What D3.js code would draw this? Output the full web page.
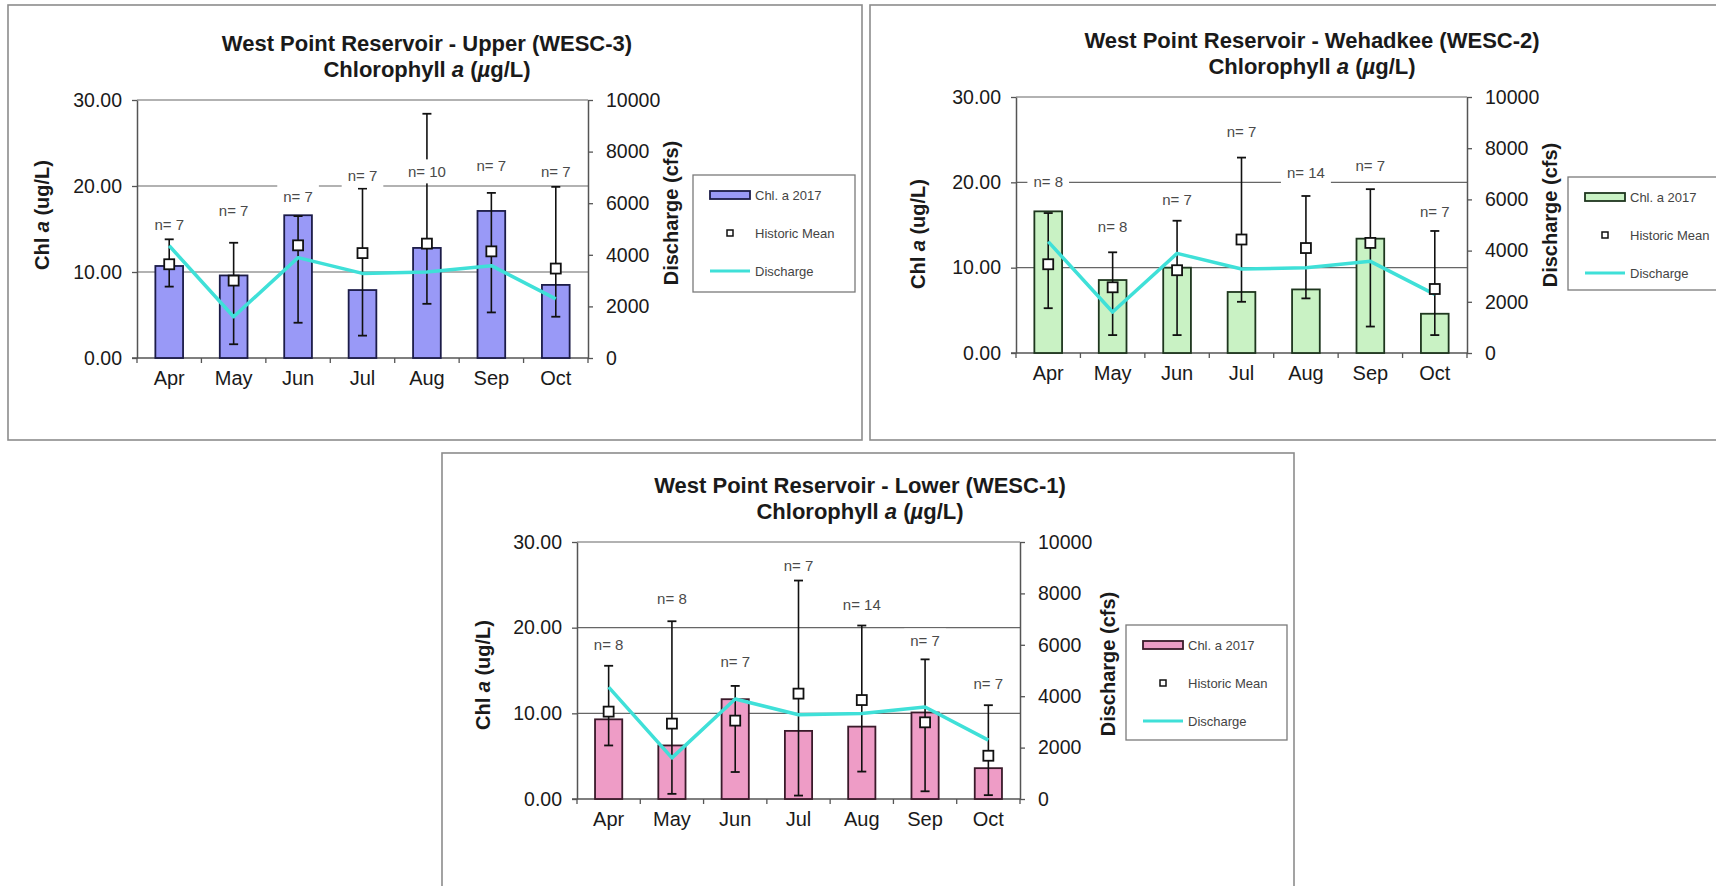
<!DOCTYPE html>
<html>
<head>
<meta charset="utf-8">
<script src="https://cdnjs.cloudflare.com/ajax/libs/d3/7.8.5/d3.min.js"></script>
<style>
  body { margin: 0; background: #fff; }
  svg text { font-family: "Liberation Sans", Arial, sans-serif; }
</style>
</head>
<body>
<svg id="chart" width="1716" height="886"></svg>
<script>
// months on the x axis (same for every chart)
var months = ["Apr", "May", "Jun", "Jul", "Aug", "Sep", "Oct"];

// tick values
var chlTicks = [0, 10, 20, 30];
var flowTicks = [0, 2000, 4000, 6000, 8000, 10000];

// discharge (cfs) - same line in all three charts
var discharge = [4350, 1600, 3890, 3280, 3330, 3580, 2290];

// Upper (WESC-3)
var upperChl2017 = [10.7, 9.6, 16.6, 7.9, 12.8, 17.1, 8.5];
var upperMean = [10.9, 9.0, 13.1, 12.2, 13.3, 12.4, 10.4];
var upperMin = [8.3, 1.6, 4.1, 2.6, 6.3, 5.3, 4.8];
var upperMax = [13.8, 13.4, 16.5, 19.7, 28.4, 19.2, 19.9];
var upperN = [7, 7, 7, 7, 10, 7, 7];
var upperNLabelAt = [15.5, 17.1, 18.8, 21.2, 21.7, 22.3, 21.6];

// Wehadkee (WESC-2)
var wehadkeeChl2017 = [16.6, 8.55, 10.0, 7.15, 7.45, 13.4, 4.6];
var wehadkeeMean = [10.4, 7.7, 9.7, 13.3, 12.3, 12.9, 7.5];
var wehadkeeMin = [5.25, 2.1, 2.1, 6.0, 6.4, 3.1, 2.1];
var wehadkeeMax = [16.4, 11.8, 15.5, 22.9, 18.4, 19.2, 14.3];
var wehadkeeN = [8, 8, 7, 7, 14, 7, 7];
var wehadkeeNLabelAt = [20.1, 14.8, 18.0, 25.9, 21.1, 22.0, 16.5];

// Lower (WESC-1)
var lowerChl2017 = [9.3, 6.25, 11.65, 7.95, 8.45, 10.1, 3.6];
var lowerMean = [10.2, 8.8, 9.15, 12.3, 11.55, 8.95, 5.05];
var lowerMin = [6.25, 0.6, 3.15, 0.4, 3.2, 0.9, 0.45];
var lowerMax = [15.55, 20.75, 13.2, 25.5, 20.25, 16.3, 10.95];
var lowerN = [8, 8, 7, 7, 14, 7, 7];
var lowerNLabelAt = [18.0, 23.4, 16.0, 27.2, 22.7, 18.5, 13.4];

var svg = d3.select("#chart");

function drawPanel(p) {
  var g = svg.append("g");

  // outer frame of the chart
  g.append("rect")
    .attr("x", p.box[0]).attr("y", p.box[1])
    .attr("width", p.box[2]).attr("height", p.box[3])
    .attr("fill", "#fff").attr("stroke", "#8c8c8c").attr("stroke-width", 1.6);

  var x = d3.scaleBand().domain(months).range([p.left, p.right])
    .paddingInner(0.57).paddingOuter(0.285);
  var y = d3.scaleLinear().domain([0, 30]).range([p.bottom, p.top]);
  var y2 = d3.scaleLinear().domain([0, 10000]).range([p.bottom, p.top]);
  var cx = function(m) { return x(m) + x.bandwidth() / 2; };

  // gridlines (10, 20, 30)
  g.selectAll(".grid").data(chlTicks.slice(1)).enter().append("line")
    .attr("x1", p.left).attr("x2", p.right)
    .attr("y1", function(d) { return y(d); }).attr("y2", function(d) { return y(d); })
    .attr("stroke", "#666").attr("stroke-width", 1.1);

  // left axis
  var la = g.append("g").attr("transform", "translate(" + p.left + ",0)")
    .call(d3.axisLeft(y).tickValues(chlTicks).tickFormat(d3.format(".2f"))
      .tickSize(5).tickSizeOuter(0).tickPadding(10));
  // right axis
  var ra = g.append("g").attr("transform", "translate(" + p.right + ",0)")
    .call(d3.axisRight(y2).tickValues(flowTicks).tickFormat(d3.format("d"))
      .tickSize(5).tickSizeOuter(0).tickPadding(13));
  [la, ra].forEach(function(a) {
    a.select(".domain").attr("stroke", "#555").attr("stroke-width", 1.5);
    a.selectAll(".tick line").attr("stroke", "#555").attr("stroke-width", 1.3);
    a.selectAll("text").attr("font-size", 19.5).attr("fill", "#1a1a1a");
  });

  // bottom axis: labels under each month, ticks between months
  var ba = g.append("g").attr("transform", "translate(0," + p.bottom + ")")
    .call(d3.axisBottom(x).tickSize(0).tickPadding(13));
  ba.select(".domain").remove();
  ba.selectAll("text").attr("font-size", 20).attr("fill", "#1a1a1a");
  g.append("line").attr("x1", p.left - 5).attr("x2", p.right)
    .attr("y1", p.bottom).attr("y2", p.bottom)
    .attr("stroke", "#555").attr("stroke-width", 1.5);
  g.selectAll(".xtick").data(months.concat(["end"])).enter().append("line")
    .attr("x1", function(d, i) { return p.left + i * x.step(); })
    .attr("x2", function(d, i) { return p.left + i * x.step(); })
    .attr("y1", p.bottom).attr("y2", p.bottom + 5)
    .attr("stroke", "#555").attr("stroke-width", 1.3);

  // 2017 bars
  g.selectAll(".bar").data(p.chl).enter().append("rect")
    .attr("x", function(d, i) { return x(months[i]); })
    .attr("y", function(d) { return y(d); })
    .attr("width", x.bandwidth())
    .attr("height", function(d) { return y(0) - y(d); })
    .attr("fill", p.fill).attr("stroke", p.edge).attr("stroke-width", 1.8);

  // historic range error bars
  var eb = g.selectAll(".err").data(months).enter().append("g");
  eb.append("line")
    .attr("x1", cx).attr("x2", cx)
    .attr("y1", function(d, i) { return y(p.min[i]); })
    .attr("y2", function(d, i) { return y(p.max[i]); })
    .attr("stroke", "#111").attr("stroke-width", 1.6);
  [p.min, p.max].forEach(function(arr) {
    eb.append("line")
      .attr("x1", function(d) { return cx(d) - 4.5; })
      .attr("x2", function(d) { return cx(d) + 4.5; })
      .attr("y1", function(d, i) { return y(arr[i]); })
      .attr("y2", function(d, i) { return y(arr[i]); })
      .attr("stroke", "#111").attr("stroke-width", 1.8);
  });

  // discharge line
  var line = d3.line()
    .x(function(d, i) { return cx(months[i]); })
    .y(function(d) { return y2(d); });
  g.append("path").datum(discharge).attr("d", line)
    .attr("fill", "none").attr("stroke", "#3fe0d8").attr("stroke-width", 3.5)
    .attr("stroke-linejoin", "round");

  // historic mean markers
  g.selectAll(".mean").data(p.mean).enter().append("rect")
    .attr("x", function(d, i) { return cx(months[i]) - 5; })
    .attr("y", function(d) { return y(d) - 5; })
    .attr("width", 10).attr("height", 10)
    .attr("fill", "#fff").attr("stroke", "#111").attr("stroke-width", 1.8);

  // n= labels (white boxes hide lines behind them)
  p.n.forEach(function(n, i) {
    var lg = g.append("g");
    var bg = lg.append("rect").attr("fill", "#fff");
    var t = lg.append("text")
      .attr("x", cx(months[i])).attr("y", y(p.nAt[i]))
      .attr("dy", "0.35em").attr("text-anchor", "middle")
      .attr("font-size", 15).attr("fill", "#4a4a4a")
      .text("n= " + n);
    var bb = t.node().getBBox();
    bg.attr("x", bb.x - 6).attr("y", y(p.nAt[i]) - 12)
      .attr("width", bb.width + 12).attr("height", 24);
  });

  // titles
  g.append("text").attr("x", p.titleX).attr("y", p.titleY)
    .attr("text-anchor", "middle").attr("font-size", 22).attr("font-weight", "bold")
    .attr("fill", "#1a1a1a").text(p.title);
  var t2 = g.append("text").attr("x", p.titleX).attr("y", p.titleY + 26)
    .attr("text-anchor", "middle").attr("font-size", 22).attr("font-weight", "bold")
    .attr("fill", "#1a1a1a");
  t2.append("tspan").text("Chlorophyll ");
  t2.append("tspan").attr("font-style", "italic").text("a");
  t2.append("tspan").text(" (");
  t2.append("tspan").attr("font-style", "italic").text("\u00b5");
  t2.append("tspan").text("g/L)");

  // axis titles
  var yl = g.append("text")
    .attr("transform", "translate(" + p.yTitle[0] + "," + p.yTitle[1] + ") rotate(-90)")
    .attr("text-anchor", "middle").attr("dy", "0.35em")
    .attr("font-size", 20).attr("font-weight", "bold").attr("fill", "#1a1a1a");
  yl.append("tspan").text("Chl ");
  yl.append("tspan").attr("font-style", "italic").text("a");
  yl.append("tspan").text(" (ug/L)");
  g.append("text")
    .attr("transform", "translate(" + p.y2Title[0] + "," + p.y2Title[1] + ") rotate(-90)")
    .attr("text-anchor", "middle").attr("dy", "0.35em")
    .attr("font-size", 20).attr("font-weight", "bold").attr("fill", "#1a1a1a")
    .text("Discharge (cfs)");

  // legend
  var L = p.legend;
  var leg = g.append("g").attr("transform", "translate(" + L[0] + "," + L[1] + ")");
  leg.append("rect").attr("width", L[2]).attr("height", L[3])
    .attr("fill", "#fff").attr("stroke", "#7a7a7a").attr("stroke-width", 1.3);
  leg.append("rect").attr("x", 17).attr("y", 16).attr("width", 40).attr("height", 8)
    .attr("fill", p.fill).attr("stroke", p.edge).attr("stroke-width", 1.8);
  leg.append("rect").attr("x", 34).attr("y", 55).attr("width", 6).attr("height", 6)
    .attr("fill", "#fff").attr("stroke", "#111").attr("stroke-width", 1.5);
  leg.append("line").attr("x1", 17).attr("x2", 57).attr("y1", 96).attr("y2", 96)
    .attr("stroke", "#3fe0d8").attr("stroke-width", 3);
  var names = ["Chl. a 2017", "Historic Mean", "Discharge"];
  leg.selectAll(".lt").data(names).enter().append("text")
    .attr("x", 62).attr("y", function(d, i) { return 20 + i * 38; })
    .attr("dy", "0.35em").attr("font-size", 13).attr("fill", "#444")
    .text(function(d) { return d; });
}

drawPanel({
  title: "West Point Reservoir - Upper (WESC-3)",
  chl: upperChl2017, mean: upperMean, min: upperMin, max: upperMax,
  n: upperN, nAt: upperNLabelAt,
  fill: "#9999f7", edge: "#1c1c48",
  box: [8, 5, 854, 435],
  left: 137, right: 588, top: 100, bottom: 358,
  titleX: 427, titleY: 51,
  yTitle: [42, 215], y2Title: [671, 213],
  legend: [693, 175, 162, 117]
});

drawPanel({
  title: "West Point Reservoir - Wehadkee (WESC-2)",
  chl: wehadkeeChl2017, mean: wehadkeeMean, min: wehadkeeMin, max: wehadkeeMax,
  n: wehadkeeN, nAt: wehadkeeNLabelAt,
  fill: "#c9f2c4", edge: "#1e361e",
  box: [870, 5, 870, 435],
  left: 1016, right: 1467, top: 97, bottom: 353,
  titleX: 1312, titleY: 48,
  yTitle: [918, 234], y2Title: [1550, 215],
  legend: [1568, 177, 162, 113]
});

drawPanel({
  title: "West Point Reservoir - Lower (WESC-1)",
  chl: lowerChl2017, mean: lowerMean, min: lowerMin, max: lowerMax,
  n: lowerN, nAt: lowerNLabelAt,
  fill: "#ee9cc6", edge: "#3a1a2a",
  box: [442, 453, 852, 450],
  left: 577, right: 1020, top: 542, bottom: 799,
  titleX: 860, titleY: 493,
  yTitle: [483, 675], y2Title: [1108, 664],
  legend: [1126, 625, 161, 115]
});
</script>
</body>
</html>
